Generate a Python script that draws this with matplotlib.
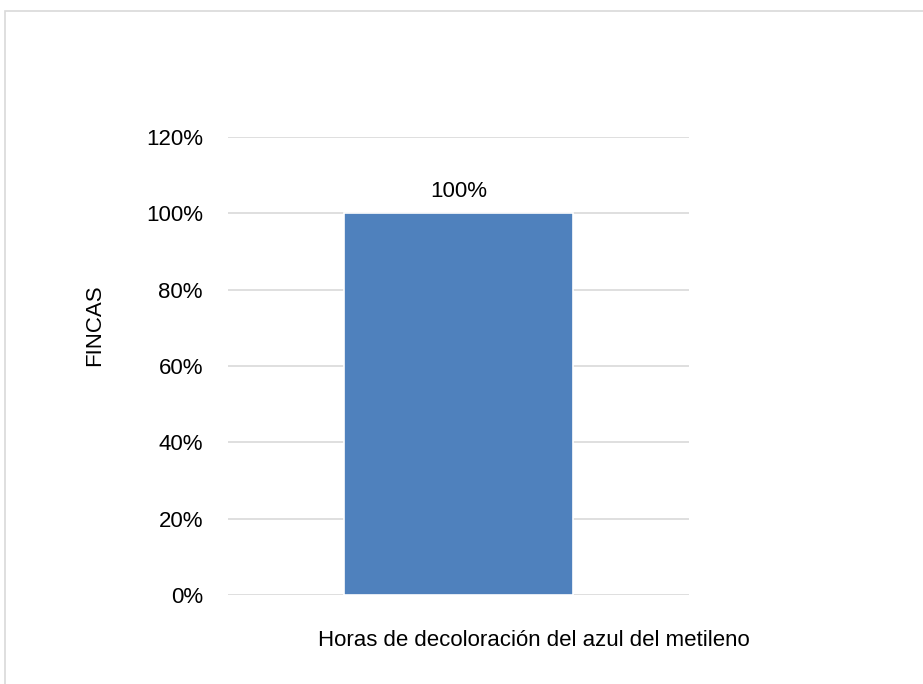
import matplotlib.pyplot as plt
from matplotlib.patches import Rectangle
from matplotlib.ticker import FuncFormatter

categories = ["Horas de decoloración del azul del metileno"]
values = [1.00]
yticks = [0, 0.2, 0.4, 0.6, 0.8, 1.0, 1.2]

plt.rcParams['font.family'] = ['Liberation Sans', 'DejaVu Sans']

fig = plt.figure(figsize=(9.23, 6.84), dpi=100)
ax = fig.add_axes([0.247, 0.130, 0.4995, 0.670])

# outer frame: only top and left edges show
fig.patches.append(Rectangle((5 / 923, -0.1), 1.1, (684 - 11) / 684 + 0.1,
                             transform=fig.transFigure, fill=False,
                             edgecolor='#D9D9D9', linewidth=1.2))

ax.bar([0], values, width=0.495, color='#4F81BD', edgecolor='white',
       linewidth=1.2, zorder=3)
for x, v in enumerate(values):
    ax.text(x, v + 0.03, f"{v:.0%}", ha='center', va='bottom', fontsize=16)

ax.set_xlim(-0.5, 0.5)
ax.set_ylim(0, 1.2)
ax.set_yticks(yticks)
ax.yaxis.set_major_formatter(FuncFormatter(lambda v, _: f"{v:.0%}"))
ax.tick_params(axis='y', length=0, labelsize=16, pad=18)
ax.set_xticks([])
ax.grid(axis='y', color='#D9D9D9', linewidth=1.2, zorder=0)
for s in ax.spines.values():
    s.set_visible(False)

fig.text(95 / 923, 1 - 325 / 684, "FINCAS", rotation=90, ha='center',
         va='center', fontsize=16)
fig.text(534 / 923, 1 - 640 / 684, categories[0], ha='center', va='center',
         fontsize=16)

fig.savefig("out.png", dpi=100)
